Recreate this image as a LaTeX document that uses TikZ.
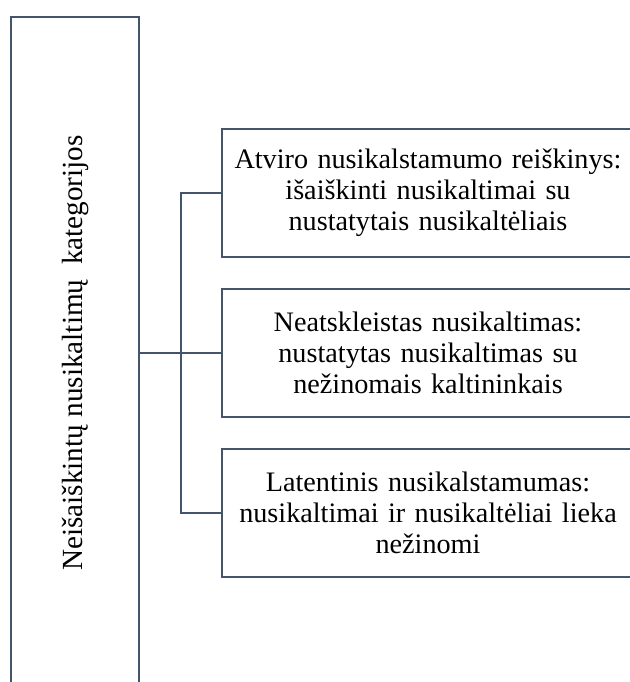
\documentclass[tikz,border=0pt]{standalone}
\usepackage{fontspec}
\setmainfont{Liberation Serif}
\definecolor{frame}{HTML}{44546A}
\begin{document}
\begin{tikzpicture}[x=0.5pt, y=-0.5pt,
		catbox/.style={draw=frame, line width=1.4pt, minimum width=64pt, minimum height=336pt, inner sep=0},
		kindbox/.style={draw=frame, line width=1.4pt, minimum width=206pt, minimum height=64pt, text width=204pt, align=center, inner sep=0, font=\fontsize{14.1}{15.6}\selectfont},
		link/.style={draw=frame, line width=1.4pt}]
			\useasboundingbox (0,0) rectangle (629,682);
			\node (cat) [catbox] at (75,353) {};
			\node [rotate=90, font=\fontsize{14.6}{16}\selectfont] at (cat.center) {Neišaiškintų nusikaltimų\ \ kategorijos};
			\node (k1) [kindbox] at (428,193) {Atviro nusikalstamumo reiškinys:\\ išaiškinti nusikaltimai su\\ nustatytais nusikaltėliais};
			\node (k2) [kindbox] at (428,353) {Neatskleistas nusikaltimas:\\ nustatytas nusikaltimas su\\ nežinomais kaltininkais};
			\node (k3) [kindbox] at (428,513) {Latentinis nusikalstamumas:\\ nusikaltimai ir nusikaltėliai lieka\\ nežinomi};
			\coordinate (top) at (181,193);
			\coordinate (bot) at (181,513);
			\draw[link] (cat.east) -- (k2.west);
			\draw[link] (k1.west) -- (top) -- (bot) -- (k3.west);
		\end{tikzpicture}
\end{document}
